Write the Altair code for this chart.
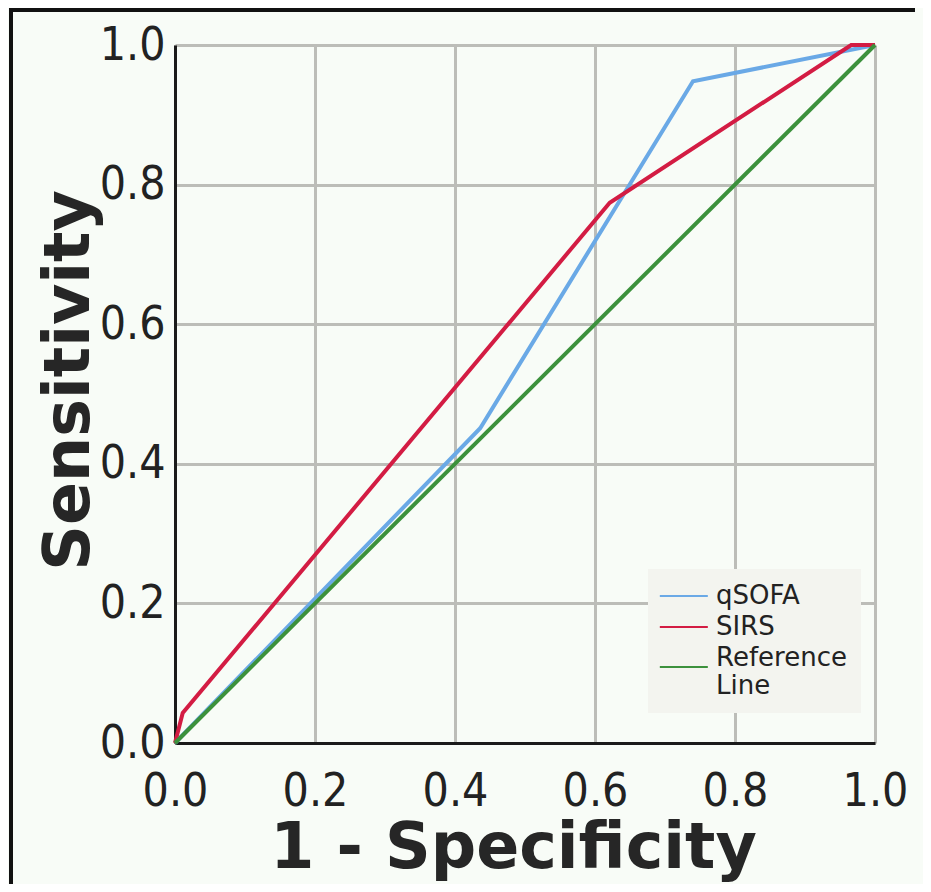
import altair as alt
import pandas as pd

series_names = ["qSOFA", "SIRS", "Reference Line"]
series_colors = ["#6aa9e6", "#d31c43", "#3c913c"]

qsofa_fpr = [0.0, 0.436, 0.74, 1.0]
qsofa_tpr = [0.0, 0.451, 0.948, 1.0]
sirs_fpr = [0.0, 0.011, 0.621, 0.966, 1.0]
sirs_tpr = [0.0, 0.043, 0.774, 1.0, 1.0]
ref_fpr = [0.0, 1.0]
ref_tpr = [0.0, 1.0]
axis_ticks = [0.0, 0.2, 0.4, 0.6, 0.8, 1.0]

rows = []
for name, xs, ys in zip(series_names, [qsofa_fpr, sirs_fpr, ref_fpr], [qsofa_tpr, sirs_tpr, ref_tpr]):
    for i, (x, y) in enumerate(zip(xs, ys)):
        rows.append({"series": name, "fpr": x, "tpr": y, "order": i})
df = pd.DataFrame(rows)

label_font = "DejaVu Sans Condensed"
title_font = "DejaVu Sans"

x_axis = alt.Axis(
    values=axis_ticks, format=".1f", title="1 - Specificity",
    labelFont=label_font, labelFontSize=46, labelColor="#222222",
    labelPadding=26, labelFlush=False, labelOverlap=False, ticks=False,
    domainColor="#1a1a1a", domainWidth=3, gridColor="#bcbdb8", gridWidth=3,
    titleFont=title_font, titleFontWeight="bold", titleFontSize=63.5, titleColor="#262626",
    titleX=338, titleY=124, titleAlign="center", titleBaseline="alphabetic",
)
y_axis = alt.Axis(
    values=axis_ticks, format=".1f", title="Sensitivity",
    labelFont=label_font, labelFontSize=46, labelColor="#222222",
    labelPadding=10, labelFlush=False, labelOverlap=False, ticks=False,
    domainColor="#1a1a1a", domainWidth=3, gridColor="#bcbdb8", gridWidth=3,
    titleFont=title_font, titleFontWeight="bold", titleFontSize=63.5, titleColor="#262626",
    titleX=-87, titleY=335, titleAlign="center", titleBaseline="alphabetic", titleAngle=270,
)

legend = alt.Legend(
    title=None, orient="none", legendX=473, legendY=524,
    fillColor="#f3f4ef", padding=14,
    symbolType={"expr": "datum.value == 'Reference Line' ? 'M-2.53,1.5H5.47' : 'M-2.53,0H5.47'"},
    symbolSize=144, symbolStrokeWidth=2,
    labelFont=title_font, labelFontSize=26, labelColor="#222222",
    labelLimit=300, rowPadding=5, labelOffset=28,
    labelExpr="datum.label == 'Reference Line' ? ['Reference', 'Line'] : datum.label",
)

lines = alt.Chart(df).mark_line(strokeWidth=4).encode(
    x=alt.X("fpr:Q", scale=alt.Scale(domain=[0, 1], nice=False), axis=x_axis),
    y=alt.Y("tpr:Q", scale=alt.Scale(domain=[0, 1], nice=False), axis=y_axis),
    color=alt.Color("series:N", scale=alt.Scale(domain=series_names, range=series_colors),
                    sort=series_names, legend=legend),
    order="order:Q",
)

# decorative black frame (left and top edges)
frame_src = pd.DataFrame({"a": [0]})
frame_left = alt.Chart(frame_src).mark_rule(color="#111111", strokeWidth=4).encode(
    x=alt.value(-164), y=alt.value(-37), y2=alt.value(839)
)
frame_top = alt.Chart(frame_src).mark_rule(color="#111111", strokeWidth=4).encode(
    y=alt.value(-35), x=alt.value(-166), x2=alt.value(740)
)

chart = alt.layer(lines, frame_left, frame_top).properties(
    width=700, height=698,
    background="#f8fcf7",
    padding={"left": 167, "top": 37, "right": 48, "bottom": 141},
    autosize=alt.AutoSizeParams(type="none"),
).configure_view(stroke=None)

chart.save("out.html", embed_options={"renderer": "svg", "actions": False})
